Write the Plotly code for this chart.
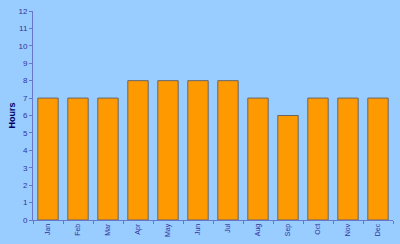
import plotly.graph_objects as go

months = ["Jan", "Feb", "Mar", "Apr", "May", "Jun", "Jul", "Aug", "Sep", "Oct", "Nov", "Dec"]
hours = [7, 7, 7, 8, 8, 8, 8, 7, 6, 7, 7, 7]
y_ticks = list(range(0, 13))

fig = go.Figure(go.Bar(
    x=months, y=hours,
    marker=dict(color="#FF9900", line=dict(color="#666666", width=1)),
    width=0.68,
))

axis_color = "#6677CC"
label_color = "#333399"

fig.update_layout(
    width=400, height=244,
    margin=dict(l=33, r=7, t=11, b=24),
    paper_bgcolor="#99CCFF", plot_bgcolor="#99CCFF",
    showlegend=False,
    bargap=0.32,
    font=dict(family="Liberation Sans, Arial", size=8, color=label_color),
    annotations=[dict(
        text="<b>Hours</b>", xref="paper", yref="paper", x=-0.061, y=0.5,
        xanchor="center", yanchor="middle", textangle=-90, showarrow=False,
        font=dict(size=9, color="#000066"),
    )],
)
fig.update_xaxes(
    automargin=False,
    showgrid=False, showline=True, linecolor=axis_color, linewidth=1,
    ticks="outside", ticklen=3, tickcolor=axis_color, tickson="boundaries",
    tickangle=-90, tickfont=dict(size=7, color=label_color),
)
fig.update_yaxes(
    automargin=False,
    range=[0, 12], tickvals=y_ticks, showgrid=False, zeroline=False,
    showline=True, linecolor=axis_color, linewidth=1,
    ticks="outside", ticklen=3, tickcolor=axis_color,
    tickfont=dict(size=8, color=label_color),
)

fig.write_html("out.html")
